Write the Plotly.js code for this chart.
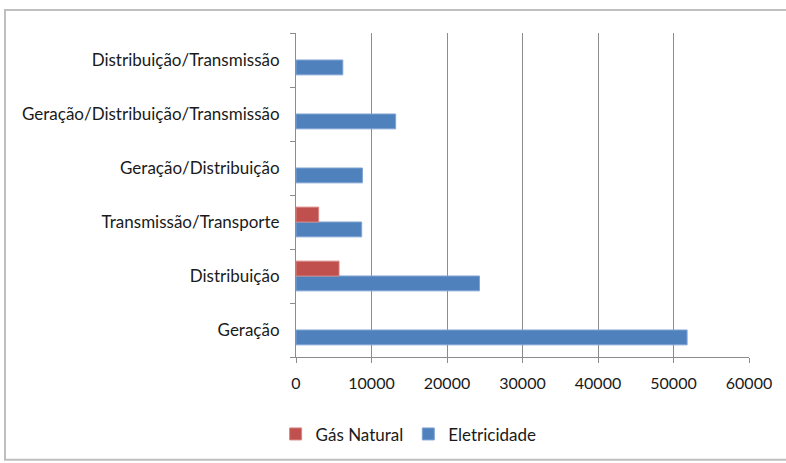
<!DOCTYPE html>
<html>
<head>
<meta charset="utf-8">
<script src="https://cdn.plot.ly/plotly-3.0.1.min.js"></script>
<style>
html,body{margin:0;padding:0;background:#fff;}
#chart{width:786px;height:463px;}
</style>
</head>
<body>
<div id="chart"></div>
<script>
var categories = ["Geração", "Distribuição", "Transmissão/Transporte", "Geração/Distribuição", "Geração/Distribuição/Transmissão", "Distribuição/Transmissão"];
var gasNatural = [null, 5700, 3000, null, null, null];
var eletricidade = [51800, 24300, 8700, 8800, 13200, 6200];
var seriesNames = ["Gás Natural", "Eletricidade"];
var xTicks = [0, 10000, 20000, 30000, 40000, 50000, 60000];

var fontFam = "Lato, 'Open Sans', sans-serif";

var traces = [
  {
    type: "bar", orientation: "h", name: seriesNames[1],
    y: categories, x: eletricidade,
    marker: {color: "#4F81BD", line: {color: "#7FA3D3", width: 1}},
    hoverinfo: "x+name"
  },
  {
    type: "bar", orientation: "h", name: seriesNames[0],
    y: categories, x: gasNatural,
    marker: {color: "#C0504D", line: {color: "#D88583", width: 1}},
    hoverinfo: "x+name"
  }
];

var layout = {
  width: 786, height: 463,
  margin: {l: 296, r: 37, t: 33, b: 105},
  paper_bgcolor: "#ffffff", plot_bgcolor: "#ffffff",
  font: {family: fontFam, size: 16, color: "#1a1a1a"},
  barmode: "group",
  bargap: 0.45,
  bargroupgap: 0,
  showlegend: true,
  legend: {
    orientation: "h", traceorder: "reversed",
    x: -0.045, xanchor: "left", y: -0.235, yanchor: "middle",
    font: {family: fontFam, size: 17, color: "#1a1a1a"},
    itemwidth: 30
  },
  xaxis: {
    range: [0, 60000], tickvals: xTicks, ticktext: xTicks.map(String),
    showgrid: true, gridcolor: "#8c8c8c", gridwidth: 1,
    showline: true, linecolor: "#8c8c8c", linewidth: 1,
    ticks: "outside", ticklen: 5, tickcolor: "#8c8c8c",
    zeroline: false, fixedrange: true,
    ticklabelstandoff: 7,
    tickfont: {family: fontFam, size: 16, color: "#1a1a1a"}
  },
  yaxis: {
    type: "category", categoryorder: "array", categoryarray: categories,
    showline: true, linecolor: "#8c8c8c", linewidth: 1,
    ticks: "outside", ticklen: 5, tickcolor: "#8c8c8c",
    tickson: "boundaries",
    showgrid: false, fixedrange: true,
    ticklabelstandoff: 12,
    tickfont: {family: fontFam, size: 17, color: "#1a1a1a"}
  },
  shapes: [
    {type: "rect", xref: "paper", yref: "paper",
     x0: (5 - 296) / 453, x1: (800 - 296) / 453,
     y0: -(461 - 358) / 325, y1: 1 + (33 - 10) / 325,
     line: {color: "#bfbfbf", width: 2}, fillcolor: "rgba(0,0,0,0)", layer: "below"}
  ]
};

Plotly.newPlot("chart", traces, layout, {displayModeBar: false, staticPlot: true});
</script>
</body>
</html>
